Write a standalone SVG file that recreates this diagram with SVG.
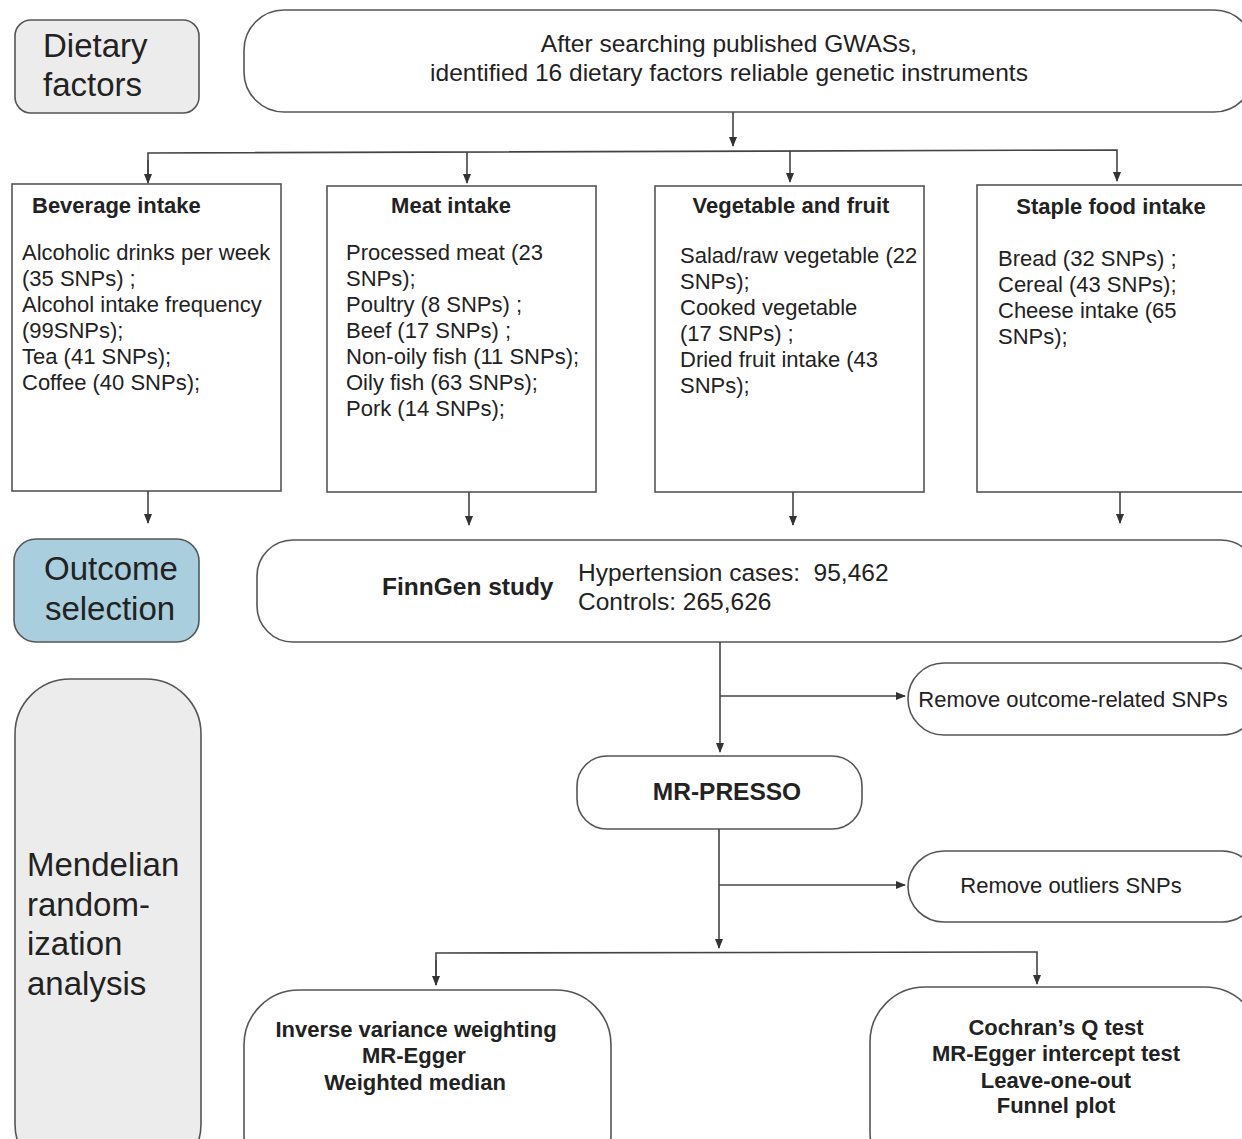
<svg xmlns="http://www.w3.org/2000/svg" width="1242" height="1139" viewBox="0 0 1242 1139">
<style>
.box{fill:#fff;stroke:#555;stroke-width:1.6}
.grey{fill:#ececec;stroke:#555;stroke-width:1.6}
.blue{fill:#a9cedd;stroke:#555;stroke-width:1.6}
.t{font-family:"Liberation Sans",Arial,sans-serif;fill:#222}
.lab{font-size:33px}
.hd{font-size:22px;font-weight:bold}
.bd{font-size:22px}
.md{font-size:24.5px}
.c{text-anchor:middle}
.ln{fill:none;stroke:#444;stroke-width:1.6}
</style>
<defs>
<marker id="ah" markerWidth="10" markerHeight="10" refX="9" refY="5" orient="auto" markerUnits="userSpaceOnUse">
<path d="M0,1 L10,5 L0,9 Z" fill="#333"/>
</marker>
</defs>
<rect width="1242" height="1139" fill="#fff"/>

<g id="dietary-factors">
<rect class="grey" x="15" y="20" width="184" height="93" rx="16"/>
<text class="t lab" x="43" y="57">Dietary</text>
<text class="t lab" x="43" y="96">factors</text>
</g>

<g id="search">
<rect class="box" x="244" y="10" width="1010" height="102" rx="40"/>
<text class="t md c" x="729" y="52">After searching published GWASs,</text>
<text class="t md c" x="729" y="81">identified 16 dietary factors reliable genetic instruments</text>
</g>

<g id="beverage">
<rect class="box" x="12" y="184" width="269" height="307"/>
<text class="t hd" x="32" y="213">Beverage intake</text>
<text class="t bd" x="22" y="260">Alcoholic drinks per week</text>
<text class="t bd" x="22" y="286">(35 SNPs) ;</text>
<text class="t bd" x="22" y="312">Alcohol intake frequency</text>
<text class="t bd" x="22" y="338">(99SNPs);</text>
<text class="t bd" x="22" y="364">Tea (41 SNPs);</text>
<text class="t bd" x="22" y="390">Coffee (40 SNPs);</text>
</g>

<g id="meat">
<rect class="box" x="327" y="186" width="269" height="306"/>
<text class="t hd c" x="451" y="213">Meat intake</text>
<text class="t bd" x="346" y="260">Processed meat (23</text>
<text class="t bd" x="346" y="286">SNPs);</text>
<text class="t bd" x="346" y="312">Poultry (8 SNPs) ;</text>
<text class="t bd" x="346" y="338">Beef (17 SNPs) ;</text>
<text class="t bd" x="346" y="364">Non-oily fish (11 SNPs);</text>
<text class="t bd" x="346" y="390">Oily fish (63 SNPs);</text>
<text class="t bd" x="346" y="416">Pork (14 SNPs);</text>
</g>

<g id="vegetable">
<rect class="box" x="655" y="186" width="269" height="306"/>
<text class="t hd c" x="791" y="213">Vegetable and fruit</text>
<text class="t bd" x="680" y="263">Salad/raw vegetable (22</text>
<text class="t bd" x="680" y="289">SNPs);</text>
<text class="t bd" x="680" y="315">Cooked vegetable</text>
<text class="t bd" x="680" y="341">(17 SNPs) ;</text>
<text class="t bd" x="680" y="367">Dried fruit intake (43</text>
<text class="t bd" x="680" y="393">SNPs);</text>
</g>

<g id="staple">
<rect class="box" x="977" y="185" width="280" height="307"/>
<text class="t hd c" x="1111" y="214">Staple food intake</text>
<text class="t bd" x="998" y="266">Bread (32 SNPs) ;</text>
<text class="t bd" x="998" y="292">Cereal (43 SNPs);</text>
<text class="t bd" x="998" y="318">Cheese intake (65</text>
<text class="t bd" x="998" y="344">SNPs);</text>
</g>

<g id="outcome-selection">
<rect class="blue" x="14" y="539" width="185" height="103" rx="22"/>
<text class="t lab c" x="111" y="580">Outcome</text>
<text class="t lab c" x="110" y="620">selection</text>
</g>

<g id="finngen">
<rect class="box" x="257" y="540" width="1000" height="102" rx="36"/>
<text class="t md" x="382" y="595" font-weight="bold">FinnGen study</text>
<text class="t md" x="578" y="581" xml:space="preserve">Hypertension cases:  95,462</text>
<text class="t md" x="578" y="610">Controls: 265,626</text>
</g>

<g id="mr-analysis">
<rect class="grey" x="15" y="679" width="186" height="500" rx="55"/>
<text class="t lab" x="27" y="876">Mendelian</text>
<text class="t lab" x="27" y="916">random-</text>
<text class="t lab" x="27" y="955">ization</text>
<text class="t lab" x="27" y="995">analysis</text>
</g>

<g id="remove-outcome">
<rect class="box" x="908" y="663" width="350" height="72" rx="36"/>
<text class="t bd c" x="1073" y="707">Remove outcome-related SNPs</text>
</g>

<g id="mr-presso">
<rect class="box" x="577" y="756" width="285" height="73" rx="30"/>
<text class="t md c" x="727" y="800" font-weight="bold">MR-PRESSO</text>
</g>

<g id="remove-outliers">
<rect class="box" x="908" y="851" width="350" height="71" rx="36"/>
<text class="t bd c" x="1071" y="893">Remove outliers SNPs</text>
</g>

<g id="methods">
<rect class="box" x="244" y="990" width="367" height="200" rx="55"/>
<text class="t hd c" x="416" y="1037">Inverse variance weighting</text>
<text class="t hd c" x="414" y="1063">MR-Egger</text>
<text class="t hd c" x="415" y="1090">Weighted median</text>
</g>

<g id="sensitivity">
<rect class="box" x="870" y="987" width="390" height="200" rx="55"/>
<text class="t hd c" x="1056" y="1035">Cochran’s Q test</text>
<text class="t hd c" x="1056" y="1061">MR-Egger intercept test</text>
<text class="t hd c" x="1056" y="1088">Leave-one-out</text>
<text class="t hd c" x="1056" y="1113">Funnel plot</text>
</g>

<g id="connectors">
<line class="ln" x1="733" y1="112" x2="733" y2="146" marker-end="url(#ah)"/>
<polyline class="ln" points="148,182 148,153 1117,150 1117,181" marker-end="url(#ah)"/>
<line class="ln" x1="148" y1="160" x2="148" y2="183" marker-end="url(#ah)"/>
<line class="ln" x1="467" y1="152" x2="467" y2="183" marker-end="url(#ah)"/>
<line class="ln" x1="790" y1="151" x2="790" y2="182" marker-end="url(#ah)"/>
<line class="ln" x1="148" y1="491" x2="148" y2="523" marker-end="url(#ah)"/>
<line class="ln" x1="469" y1="492" x2="469" y2="525" marker-end="url(#ah)"/>
<line class="ln" x1="793" y1="492" x2="793" y2="525" marker-end="url(#ah)"/>
<line class="ln" x1="1120" y1="492" x2="1120" y2="523" marker-end="url(#ah)"/>
<line class="ln" x1="720" y1="642" x2="720" y2="752" marker-end="url(#ah)"/>
<line class="ln" x1="720" y1="696" x2="905" y2="696" marker-end="url(#ah)"/>
<line class="ln" x1="719" y1="829" x2="719" y2="948" marker-end="url(#ah)"/>
<line class="ln" x1="719" y1="885" x2="905" y2="885" marker-end="url(#ah)"/>
<polyline class="ln" points="436,985 436,953 1037,952 1037,984" marker-end="url(#ah)"/>
<line class="ln" x1="436" y1="960" x2="436" y2="985" marker-end="url(#ah)"/>
</g>
</svg>
